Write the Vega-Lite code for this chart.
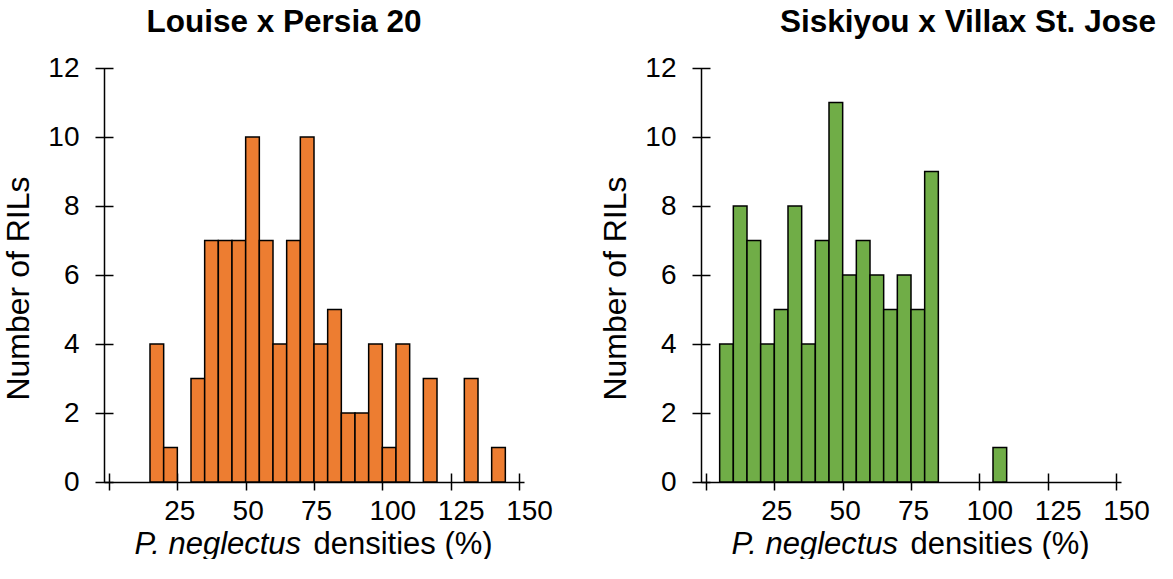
{
  "$schema": "https://vega.github.io/schema/vega-lite/v6.json",
  "background": "white",
  "padding": {"left": 2, "top": 6, "right": 0, "bottom": 0},
  "spacing": 46,
  "config": {
    "font": "Liberation Sans",
    "view": {"stroke": null},
    "axis": {"grid": false, "labelColor": "black", "titleColor": "black", "domainColor": "black", "tickColor": "black", "domainWidth": 1.5, "tickWidth": 1.5, "labelFontSize": 28, "titleFontSize": 31, "titleFontWeight": "normal", "labelFont": "Liberation Sans", "titleFont": "Liberation Sans"},
    "title": {"font": "Liberation Sans", "fontSize": 31.5, "fontWeight": "bold", "color": "black", "anchor": "middle", "offset": 16}
  },
  "datasets": {
    "louise": [
      {"start": 15, "end": 20, "count": 4},
      {"start": 20, "end": 25, "count": 1},
      {"start": 30, "end": 35, "count": 3},
      {"start": 35, "end": 40, "count": 7},
      {"start": 40, "end": 45, "count": 7},
      {"start": 45, "end": 50, "count": 7},
      {"start": 50, "end": 55, "count": 10},
      {"start": 55, "end": 60, "count": 7},
      {"start": 60, "end": 65, "count": 4},
      {"start": 65, "end": 70, "count": 7},
      {"start": 70, "end": 75, "count": 10},
      {"start": 75, "end": 80, "count": 4},
      {"start": 80, "end": 85, "count": 5},
      {"start": 85, "end": 90, "count": 2},
      {"start": 90, "end": 95, "count": 2},
      {"start": 95, "end": 100, "count": 4},
      {"start": 100, "end": 105, "count": 1},
      {"start": 105, "end": 110, "count": 4},
      {"start": 115, "end": 120, "count": 3},
      {"start": 130, "end": 135, "count": 3},
      {"start": 140, "end": 145, "count": 1}
    ],
    "siskiyou": [
      {"start": 5, "end": 10, "count": 4},
      {"start": 10, "end": 15, "count": 8},
      {"start": 15, "end": 20, "count": 7},
      {"start": 20, "end": 25, "count": 4},
      {"start": 25, "end": 30, "count": 5},
      {"start": 30, "end": 35, "count": 8},
      {"start": 35, "end": 40, "count": 4},
      {"start": 40, "end": 45, "count": 7},
      {"start": 45, "end": 50, "count": 11},
      {"start": 50, "end": 55, "count": 6},
      {"start": 55, "end": 60, "count": 7},
      {"start": 60, "end": 65, "count": 6},
      {"start": 65, "end": 70, "count": 5},
      {"start": 70, "end": 75, "count": 6},
      {"start": 75, "end": 80, "count": 5},
      {"start": 80, "end": 85, "count": 9},
      {"start": 105, "end": 110, "count": 1}
    ]
  },
  "hconcat": [
    {
      "width": 420,
      "height": 414,
      "title": {"text": "Louise x Persia 20", "dx": -30},
      "data": {"name": "louise"},
      "resolve": {"axis": {"x": "independent", "y": "independent"}},
      "layer": [
        {
          "mark": {"type": "bar", "orient": "vertical", "fill": "#ED7D31", "stroke": "black", "strokeWidth": 1.5},
          "encoding": {
            "x": {"field": "start", "type": "quantitative", "scale": {"domain": [0, 150], "nice": false, "zero": false},
              "axis": {"orient": "bottom", "values": [0, 25, 50, 75, 100, 125, 150], "labelExpr": "datum.value == 0 ? '' : datum.label", "ticks": false, "tickSize": 0, "labelPadding": 15, "labelOffset": {"condition": {"test": "datum.value >= 100", "value": 10}, "value": 2}, "labelFlush": false, "labelOverlap": false, "title": "P. neglectus", "titleFontStyle": "italic", "titleAlign": "left", "titleAnchor": "start", "titleX": 30, "titleY": 71, "titleBaseline": "alphabetic"}},
            "x2": {"field": "end"},
            "y": {"field": "count", "type": "quantitative", "scale": {"domain": [0, 12], "nice": false},
              "axis": {"orient": "left", "values": [0, 2, 4, 6, 8, 10, 12], "ticks": false, "tickSize": 0, "labelPadding": 25, "labelFlush": false, "labelOverlap": false, "title": "Number of RILs", "titleFontSize": 32, "titlePadding": 12, "titleY": 220}}
          }
        },
        {
          "mark": {"type": "bar", "orient": "vertical", "opacity": 0},
          "encoding": {
            "x": {"field": "start", "type": "quantitative",
              "axis": {"orient": "bottom", "values": [0, 25, 50, 75, 100, 125, 150], "offset": -9, "tickSize": 17, "domain": false, "labels": false, "title": "densities (%)", "titleAlign": "left", "titleAnchor": "start", "titleX": 209, "titleY": 80, "titleBaseline": "alphabetic"}},
            "x2": {"field": "end"},
            "y": {"field": "count", "type": "quantitative",
              "axis": {"orient": "left", "values": [0, 2, 4, 6, 8, 10, 12], "offset": -9, "tickSize": 18, "domain": false, "labels": false, "title": null}}
          }
        }
      ]
    },
    {
      "width": 420,
      "height": 414,
      "title": {"text": "Siskiyou x Villax St. Jose", "dx": 57},
      "data": {"name": "siskiyou"},
      "resolve": {"axis": {"x": "independent", "y": "independent"}},
      "layer": [
        {
          "mark": {"type": "bar", "orient": "vertical", "fill": "#70AD47", "stroke": "black", "strokeWidth": 1.5},
          "encoding": {
            "x": {"field": "start", "type": "quantitative", "scale": {"domain": [0, 150], "nice": false, "zero": false},
              "axis": {"orient": "bottom", "values": [0, 25, 50, 75, 100, 125, 150], "labelExpr": "datum.value == 0 ? '' : datum.label", "ticks": false, "tickSize": 0, "labelPadding": 15, "labelOffset": {"condition": {"test": "datum.value >= 100", "value": 10}, "value": 2}, "labelFlush": false, "labelOverlap": false, "title": "P. neglectus", "titleFontStyle": "italic", "titleAlign": "left", "titleAnchor": "start", "titleX": 30, "titleY": 71, "titleBaseline": "alphabetic"}},
            "x2": {"field": "end"},
            "y": {"field": "count", "type": "quantitative", "scale": {"domain": [0, 12], "nice": false},
              "axis": {"orient": "left", "values": [0, 2, 4, 6, 8, 10, 12], "ticks": false, "tickSize": 0, "labelPadding": 25, "labelFlush": false, "labelOverlap": false, "title": "Number of RILs", "titleFontSize": 32, "titlePadding": 12, "titleY": 220}}
          }
        },
        {
          "mark": {"type": "bar", "orient": "vertical", "opacity": 0},
          "encoding": {
            "x": {"field": "start", "type": "quantitative",
              "axis": {"orient": "bottom", "values": [0, 25, 50, 75, 100, 125, 150], "offset": -9, "tickSize": 17, "domain": false, "labels": false, "title": "densities (%)", "titleAlign": "left", "titleAnchor": "start", "titleX": 209, "titleY": 80, "titleBaseline": "alphabetic"}},
            "x2": {"field": "end"},
            "y": {"field": "count", "type": "quantitative",
              "axis": {"orient": "left", "values": [0, 2, 4, 6, 8, 10, 12], "offset": -9, "tickSize": 18, "domain": false, "labels": false, "title": null}}
          }
        }
      ]
    }
  ]
}
